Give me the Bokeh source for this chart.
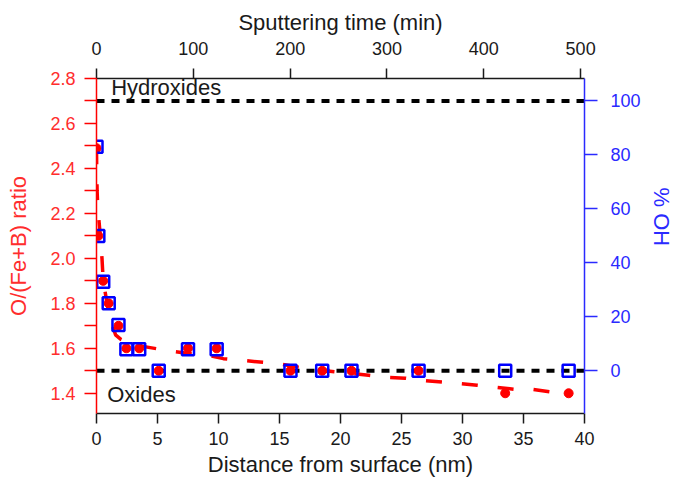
from bokeh.plotting import figure
from bokeh.models import Range1d, LinearAxis, FixedTicker, Span, Label, PrintfTickFormatter, Title
from bokeh.embed import file_html
from bokeh.resources import INLINE

# ---- data ----
distance_nm = [0.0, 0.15, 0.55, 1.0, 1.8, 2.45, 3.5, 5.1, 7.5, 9.85, 15.9, 18.5, 20.9, 26.4, 33.5, 38.7]
ratio = [2.49, 2.10, 1.90, 1.80, 1.70, 1.60, 1.60, 1.50, 1.60, 1.60, 1.50, 1.50, 1.50, 1.50, 1.40, 1.40]
oh_percent = [83, 50, 33, 25, 17, 8, 8, 0, 8, 8, 0, 0, 0, 0, 0, 0]

trend_distance_nm = [0.0, 0.02, 0.05, 0.1, 0.27, 0.45, 0.55, 0.93, 1.2, 1.56, 2.0, 2.8, 3.6, 4.4,
                     5.8, 7.7, 8.8, 10.4, 11.8, 13.4, 14.8, 16.5, 17.7, 20.0, 22.3, 23.7, 25.3,
                     26.6, 28.4, 29.6, 31.2, 32.5, 34.2, 35.6, 37.2, 38.6]
trend_ratio = [2.49, 2.39, 2.30, 2.23, 2.125, 2.0, 1.90, 1.78, 1.72, 1.66, 1.64, 1.62, 1.61, 1.603,
               1.59, 1.576, 1.573, 1.554, 1.547, 1.539, 1.532, 1.517, 1.507, 1.493, 1.48, 1.471, 1.467,
               1.458, 1.45, 1.444, 1.436, 1.428, 1.418, 1.418, 1.406, 1.40]

hydroxide_ratio = 2.7   # 100 % OH
oxide_ratio = 1.5       # 0 % OH

distance_ticks = [0, 5, 10, 15, 20, 25, 30, 35, 40]
time_ticks = [0, 100, 200, 300, 400, 500]
ratio_ticks = [1.4, 1.6, 1.8, 2.0, 2.2, 2.4, 2.6, 2.8]
ratio_minor_ticks = [1.3, 1.5, 1.7, 1.9, 2.1, 2.3, 2.5, 2.7]
oh_ticks = [0, 20, 40, 60, 80, 100]

# ---- ranges ----
ratio_lo, ratio_hi = 1.31, 2.8
def to_pct(r):
    return (r - oxide_ratio) / (hydroxide_ratio - oxide_ratio) * 100.0

FONT = "Liberation Sans"
RED = "#ff0000"
RED_TXT = "#ff2d2d"
BLUE = "#0000ff"
BLUE_AX = "#2a2aff"
DARK = "#1a1a1a"

p = figure(width=680, height=479, x_range=Range1d(0, 40), y_range=Range1d(ratio_lo, ratio_hi),
           output_backend="svg", toolbar_location=None,
           min_border_left=96, min_border_right=96, min_border_top=78, min_border_bottom=65,
           x_axis_location=None, y_axis_location=None)
p.extra_x_ranges = {"time": Range1d(0, 504)}
p.extra_y_ranges = {"oh": Range1d(to_pct(ratio_lo), to_pct(ratio_hi))}
p.outline_line_color = None
p.xgrid.visible = False
p.ygrid.visible = False
p.background_fill_color = "white"
p.border_fill_color = "white"

def style(ax, color, txt_color, tick_out, standoff, label_standoff):
    ax.axis_line_color = color
    ax.axis_line_width = 1.5
    ax.major_tick_line_color = color
    ax.major_tick_line_width = 1.5
    ax.minor_tick_line_color = color
    ax.minor_tick_line_width = 1.5
    ax.major_tick_in = 0
    ax.major_tick_out = tick_out
    ax.minor_tick_in = 0
    ax.minor_tick_out = tick_out
    ax.major_label_text_font = FONT
    ax.major_label_text_font_size = "18px"
    ax.major_label_text_color = txt_color
    ax.major_label_standoff = standoff
    ax.axis_label_text_font = FONT
    ax.axis_label_text_font_size = "22px"
    ax.axis_label_text_font_style = "normal"
    ax.axis_label_text_color = txt_color
    ax.axis_label_standoff = label_standoff

bottom = LinearAxis(ticker=FixedTicker(ticks=distance_ticks), axis_label="Distance from surface (nm)")
style(bottom, DARK, DARK, 10, 8, 4)
p.add_layout(bottom, "below")

top = LinearAxis(x_range_name="time", ticker=FixedTicker(ticks=time_ticks), axis_label="Sputtering time (min)")
style(top, DARK, DARK, 10, 14, 4)
p.add_layout(top, "above")

left = LinearAxis(ticker=FixedTicker(ticks=ratio_ticks, minor_ticks=ratio_minor_ticks), axis_label="O/(Fe+B) ratio",
                  formatter=PrintfTickFormatter(format="%.1f"))
style(left, RED, RED_TXT, 12, 9, 16)
p.add_layout(left, "left")

right = LinearAxis(y_range_name="oh", ticker=FixedTicker(ticks=oh_ticks))
style(right, BLUE_AX, BLUE_AX, 13, 13, 13)
p.add_layout(right, "right")

# right-axis title, reading top to bottom
p.add_layout(Title(text="% OH", align="left", offset=109, text_font=FONT, text_font_size="22px",
                   text_font_style="normal", text_color=BLUE_AX, standoff=10), "right")

# reference levels
for lvl in (hydroxide_ratio, oxide_ratio):
    p.add_layout(Span(location=lvl, dimension="width", line_color="black", line_width=4,
                      line_dash="8 7", level="underlay"))

# trend line and data
p.line(trend_distance_nm, trend_ratio, line_color=RED, line_width=3.5, line_dash="16 20")
p.scatter(distance_nm, ratio, marker="circle", size=9, fill_color=RED, line_color=RED)
p.scatter(distance_nm, oh_percent, y_range_name="oh", marker="square", size=12,
          fill_color=None, line_color=BLUE, line_width=2.5)

p.add_layout(Label(x=1.2, y=2.76, text="Hydroxides", text_font=FONT, text_font_size="22px",
                   text_color=DARK, text_baseline="alphabetic"))
p.add_layout(Label(x=0.88, y=1.394, text="Oxides", text_font=FONT, text_font_size="22px",
                   text_color=DARK, text_baseline="alphabetic"))

open("out.html", "w").write(file_html(p, INLINE))
